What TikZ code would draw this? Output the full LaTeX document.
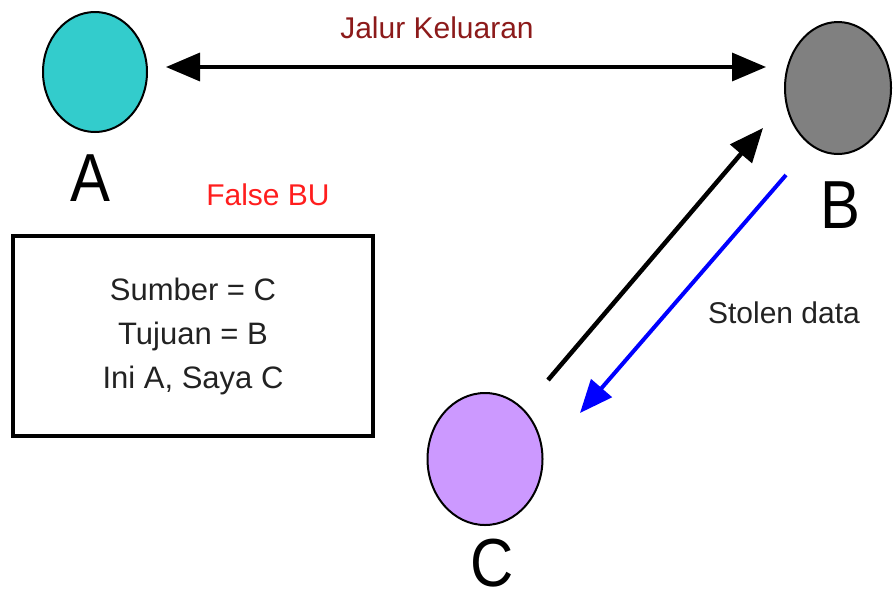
\documentclass[tikz,border=0pt]{standalone}
\usepackage{fontspec}
\setmainfont{Liberation Sans}
\usetikzlibrary{arrows.meta,shapes.geometric}
\definecolor{nodeA}{RGB}{51,204,204}
\definecolor{nodeB}{RGB}{128,128,128}
\definecolor{nodeC}{RGB}{204,153,255}
\definecolor{pathred}{RGB}{140,26,26}
\definecolor{alertred}{RGB}{255,30,30}
\definecolor{labelgray}{RGB}{34,34,34}
\tikzset{
  host/.style={ellipse, draw=black, line width=2pt, inner sep=0pt},
  hostlabel/.style={font=\fontsize{68}{68}\selectfont, text=black, inner sep=0pt, xscale=0.88},
  caption/.style={font=\fontsize{30}{36}\selectfont, inner sep=0pt},
  flow/.style={line width=4.5pt, -{Triangle[length=34pt,width=28pt]}},
  packet/.style={draw=black, line width=4pt, minimum width=360pt, minimum height=200pt,
    align=center, font=\fontsize{31}{44}\selectfont, text=labelgray}
}
\begin{document}
\begin{tikzpicture}[x=1pt,y=-1pt]
\useasboundingbox (0,0) rectangle (893,603);

% hosts
\node[host, fill=nodeA, minimum width=104pt, minimum height=120pt] (A) at (95,72) {};
\node[host, fill=nodeB, minimum width=106pt, minimum height=132pt] (B) at (838,88) {};
\node[host, fill=nodeC, minimum width=115pt, minimum height=132pt] (C) at (485,459) {};

\node[hostlabel] (Alab) at (90,178) {A};
\node[hostlabel] (Blab) at (840,205) {B};
\node[hostlabel] (Clab) at (492,563) {C};

% connector end points
\coordinate (ab1) at (166,67);
\coordinate (ab2) at (766,67);
\coordinate (cb1) at (548,380);
\coordinate (cb2) at (763,128);
\coordinate (bc1) at (786,175);
\coordinate (bc2) at (580,413);

% output path between A and B
\draw[line width=3.5pt, {Triangle[length=34pt,width=28pt]}-{Triangle[length=34pt,width=28pt]}] (ab1) -- (ab2);
\node[caption, text=pathred] (jalur) at (437,28) {Jalur Keluaran};

% spoofed request and stolen reply
\draw[flow, draw=black] (cb1) -- (cb2);
\draw[flow, line width=4pt, draw=blue, -{Triangle[length=33pt,width=27pt]}, fill=blue] (bc1) -- (bc2);
\node[caption, text=labelgray] (stolen) at (784,313) {Stolen data};

% forged packet
\node[caption, text=alertred] (false) at (268,195) {False BU};
\node[packet] (pkt) at (193,336) {Sumber = C\\Tujuan = B\\Ini A, Saya C};
\end{tikzpicture}
\end{document}
